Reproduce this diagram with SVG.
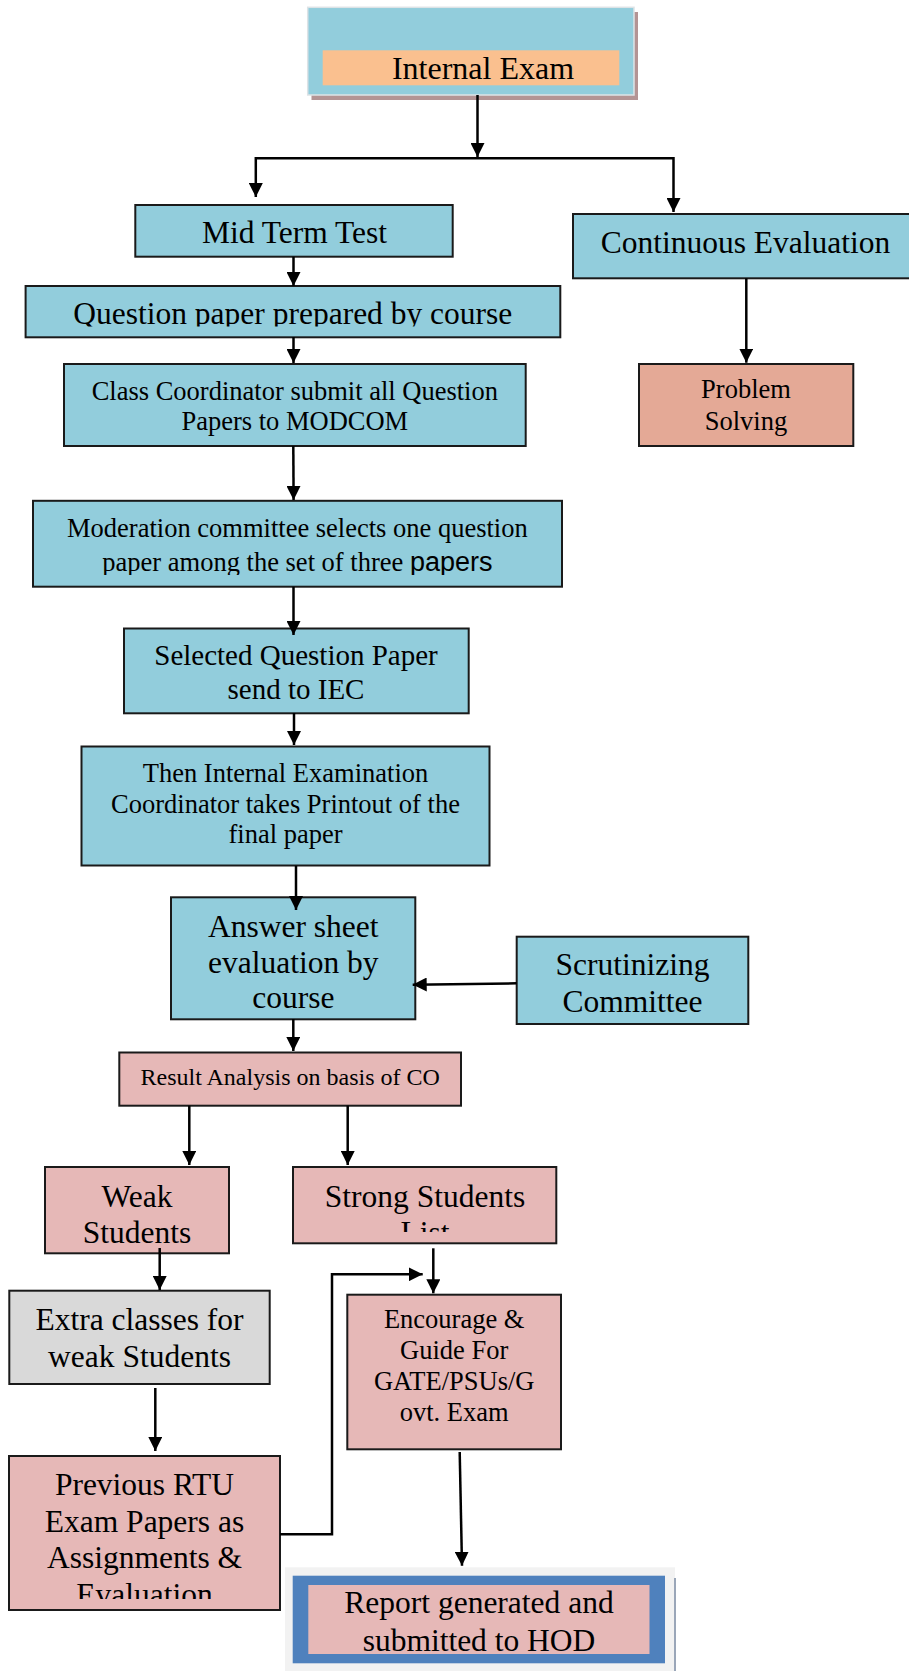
<svg xmlns="http://www.w3.org/2000/svg" width="909" height="1671" viewBox="0 0 909 1671">
  <style>
    .box { stroke: #1a1a1a; stroke-width: 2; }
    .blue { fill: #92cddc; }
    .pink { fill: #e6b8b7; }
    .salmon { fill: #e4a996; }
    .gray { fill: #d9d9d9; }
    .t { font-family: "Liberation Serif", "Times New Roman", serif; fill: #000; text-anchor: middle; }
    .L { font-size: 31.5px; }
    .M { font-size: 26.5px; }
    .S { font-size: 24px; }
    .sans { font-family: "Liberation Sans", Arial, sans-serif; font-size: 27px; }
    .conn { stroke: #000; stroke-width: 2.5; fill: none; }
  </style>
  <defs>
    <marker id="arrow" viewBox="0 0 14 14" refX="14" refY="7" markerWidth="14" markerHeight="14" markerUnits="userSpaceOnUse" orient="auto">
      <path d="M0,0 L14,7 L0,14 z" fill="#000"/>
    </marker>
    <clipPath id="clipQuestion"><rect x="26" y="286" width="534" height="40.5"/></clipPath>
    <clipPath id="clipModeration"><rect x="33" y="501" width="529" height="74"/></clipPath>
    <clipPath id="clipAnswer"><rect x="171" y="897" width="244" height="112"/></clipPath>
    <clipPath id="clipStrong"><rect x="293" y="1167" width="264" height="65"/></clipPath>
    <clipPath id="clipPrevious"><rect x="9" y="1456" width="271" height="143"/></clipPath>
  </defs>

  <rect width="909" height="1671" fill="#ffffff"/>

  <!-- Internal Exam -->
  <g id="internal-exam">
    <rect x="311.5" y="12" width="326.5" height="88" fill="#b39494"/>
    <rect x="307.7" y="7.3" width="326.3" height="87.7" fill="#92cddc" stroke="#dde3e6" stroke-width="1.5"/>
    <rect x="322.7" y="50.3" width="296.6" height="35" fill="#fac08f"/>
    <text class="t" x="483" y="79" font-size="32">Internal Exam</text>
  </g>

  <g id="mid-term-test">
    <rect class="box blue" x="135.3" y="205" width="317.4" height="51.7"/>
    <text class="t L" x="294.5" y="243">Mid Term Test</text>
  </g>

  <g id="continuous-evaluation">
    <rect class="box blue" x="573" y="214" width="345" height="64.3"/>
    <text class="t L" x="745.5" y="253.3">Continuous Evaluation</text>
  </g>

  <g id="problem-solving">
    <rect class="box salmon" x="639" y="364" width="214.3" height="82"/>
    <text class="t M" x="746" y="398.3">Problem</text>
    <text class="t M" x="746" y="430">Solving</text>
  </g>

  <g id="question-paper">
    <rect class="box blue" x="25.6" y="286" width="534.7" height="51.3"/>
    <text class="t L" x="292.8" y="324" clip-path="url(#clipQuestion)">Question paper prepared by course</text>
  </g>

  <g id="class-coordinator">
    <rect class="box blue" x="64" y="364" width="461.7" height="82"/>
    <text class="t M" x="294.8" y="399.5">Class Coordinator submit all Question</text>
    <text class="t M" x="294.8" y="429.5">Papers to MODCOM</text>
  </g>

  <g id="moderation-committee">
    <rect class="box blue" x="33" y="500.8" width="529" height="85.9"/>
    <text class="t M" x="297.4" y="536.7">Moderation committee selects one question</text>
    <text class="t M" x="297.4" y="570.7" clip-path="url(#clipModeration)">paper among the set of three <tspan class="sans">papers</tspan></text>
  </g>

  <g id="selected-question-paper">
    <rect class="box blue" x="124" y="628.5" width="344.7" height="84.8"/>
    <text class="t" x="296" y="665" font-size="29">Selected Question Paper</text>
    <text class="t" x="296" y="699" font-size="29">send to IEC</text>
  </g>

  <g id="printout">
    <rect class="box blue" x="81.5" y="746.5" width="408" height="119"/>
    <text class="t M" x="285.5" y="781.7">Then Internal Examination</text>
    <text class="t M" x="285.5" y="812.5">Coordinator takes Printout of the</text>
    <text class="t M" x="285.5" y="842.5">final paper</text>
  </g>

  <g id="answer-sheet-evaluation">
    <rect class="box blue" x="171" y="897.3" width="244.3" height="122"/>
    <g clip-path="url(#clipAnswer)">
      <text class="t L" x="293.3" y="936.7">Answer sheet</text>
      <text class="t L" x="293.3" y="972.7">evaluation by</text>
      <text class="t L" x="293.3" y="1008.3">course</text>
    </g>
  </g>

  <g id="scrutinizing-committee">
    <rect class="box blue" x="516.7" y="936.7" width="231.6" height="87.3"/>
    <text class="t L" x="632.5" y="975">Scrutinizing</text>
    <text class="t L" x="632.5" y="1011.5">Committee</text>
  </g>

  <g id="result-analysis">
    <rect class="box pink" x="119.3" y="1052.5" width="341.7" height="53.2"/>
    <text class="t S" x="290.2" y="1085">Result Analysis on basis of CO</text>
  </g>

  <g id="weak-students">
    <rect class="box pink" x="45" y="1167" width="184" height="86.3"/>
    <text class="t L" x="137" y="1206.7">Weak</text>
    <text class="t L" x="137" y="1243.3">Students</text>
  </g>

  <g id="strong-students">
    <rect class="box pink" x="293" y="1167" width="263.3" height="76.3"/>
    <g clip-path="url(#clipStrong)">
      <text class="t L" x="425" y="1206.7">Strong Students</text>
      <text class="t L" x="425" y="1243.3">List</text>
    </g>
  </g>

  <g id="extra-classes">
    <rect class="box gray" x="9.3" y="1290.7" width="260.4" height="93.3"/>
    <text class="t L" x="139.5" y="1329.5">Extra classes for</text>
    <text class="t L" x="139.5" y="1367">weak Students</text>
  </g>

  <g id="previous-rtu-papers">
    <rect class="box pink" x="9" y="1456" width="271" height="154"/>
    <g clip-path="url(#clipPrevious)">
      <text class="t L" x="144.5" y="1495">Previous RTU</text>
      <text class="t L" x="144.5" y="1531.7">Exam Papers as</text>
      <text class="t L" x="144.5" y="1568.3">Assignments &amp;</text>
      <text class="t L" x="144.5" y="1605">Evaluation</text>
    </g>
  </g>

  <g id="encourage-guide">
    <rect class="box pink" x="347.3" y="1294.7" width="213.7" height="154.6"/>
    <text class="t M" x="454.2" y="1328">Encourage &amp;</text>
    <text class="t M" x="454.2" y="1359">Guide For</text>
    <text class="t M" x="454.2" y="1390">GATE/PSUs/G</text>
    <text class="t M" x="454.2" y="1421">ovt. Exam</text>
  </g>

  <g id="report-to-hod">
    <rect x="285" y="1567.3" width="390" height="104" fill="#f2f2f2"/>
    <rect x="674" y="1578" width="2" height="93" fill="#9aa6b8"/>
    <rect x="292.7" y="1575.7" width="372.3" height="87.6" fill="#4f81bd"/>
    <rect x="308.3" y="1585" width="341.2" height="69" fill="#e6b8b7"/>
    <text class="t L" x="479" y="1613.3">Report generated and</text>
    <text class="t L" x="479" y="1650.7">submitted to HOD</text>
  </g>

  <!-- connectors, drawn above the boxes so heads that reach inside stay visible -->
  <g id="connectors">
    <path class="conn" d="M477.5,95 V157" marker-end="url(#arrow)"/>
    <path class="conn" d="M255.8,158.3 H673.5"/>
    <path class="conn" d="M255.8,157 V197" marker-end="url(#arrow)"/>
    <path class="conn" d="M673.5,157 V212" marker-end="url(#arrow)"/>
    <path class="conn" d="M293.5,256.7 V286" marker-end="url(#arrow)"/>
    <path class="conn" d="M293.5,337 V363" marker-end="url(#arrow)"/>
    <path class="conn" d="M293.3,446 L293.6,500" marker-end="url(#arrow)"/>
    <path class="conn" d="M293.5,586.7 V635" marker-end="url(#arrow)"/>
    <path class="conn" d="M294,713 V745" marker-end="url(#arrow)"/>
    <path class="conn" d="M296,865.7 V910" marker-end="url(#arrow)"/>
    <path class="conn" d="M516.7,983.3 L412.7,984.7" marker-end="url(#arrow)"/>
    <path class="conn" d="M293.3,1019 V1051" marker-end="url(#arrow)"/>
    <path class="conn" d="M189.3,1105.7 V1165" marker-end="url(#arrow)"/>
    <path class="conn" d="M347.7,1105.7 V1165" marker-end="url(#arrow)"/>
    <path class="conn" d="M159.7,1248 V1290" marker-end="url(#arrow)"/>
    <path class="conn" d="M433.3,1248.3 V1293.3" marker-end="url(#arrow)"/>
    <path class="conn" d="M155.3,1388 V1451" marker-end="url(#arrow)"/>
    <path class="conn" d="M280,1534.3 H332 V1274.3 H422.7" marker-end="url(#arrow)"/>
    <path class="conn" d="M746.3,278.3 V362.7" marker-end="url(#arrow)"/>
    <path class="conn" d="M459.7,1452 L462,1565.7" marker-end="url(#arrow)"/>
  </g>
</svg>
